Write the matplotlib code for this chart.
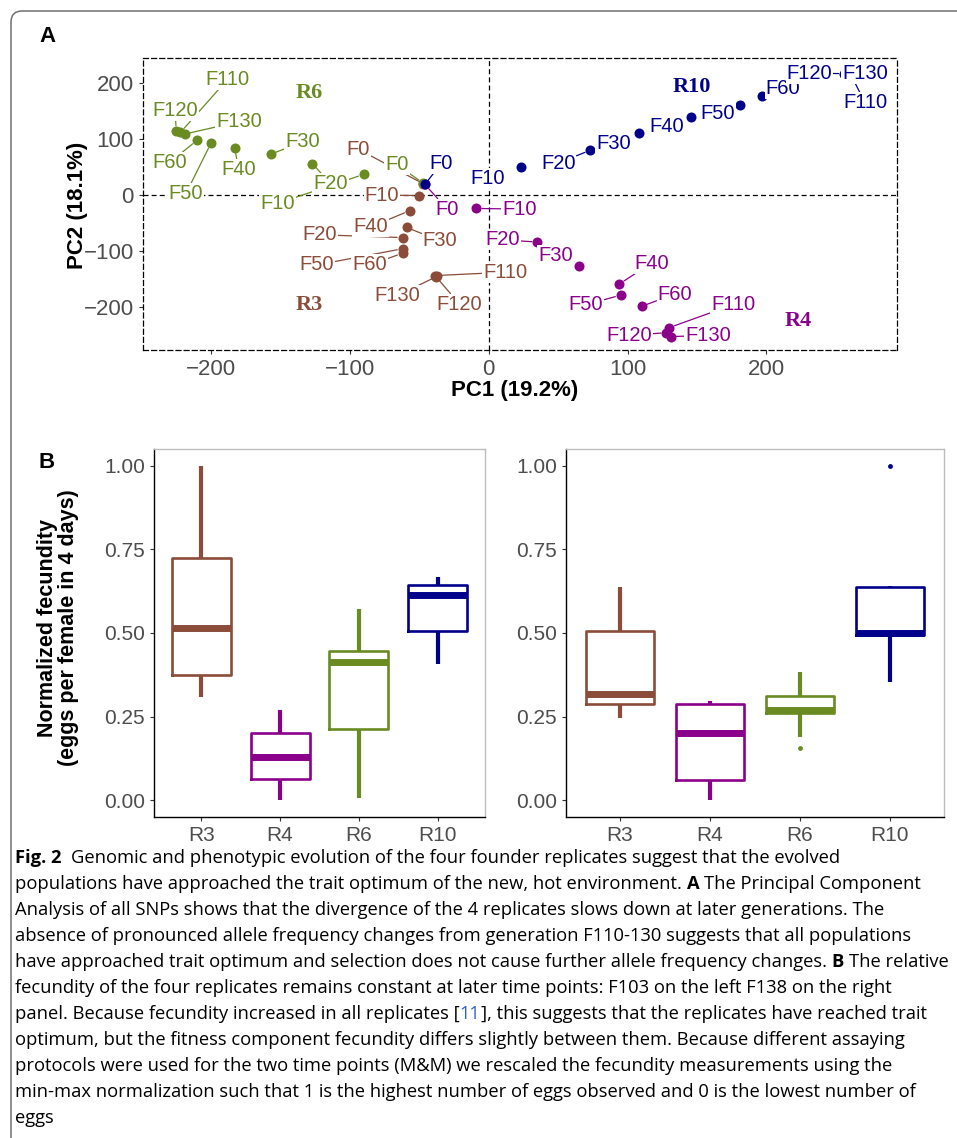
import matplotlib
matplotlib.use("Agg")
import matplotlib.pyplot as plt
from matplotlib.patches import FancyBboxPatch
from matplotlib.transforms import IdentityTransform
import matplotlib.ticker as mticker

# ---------------- data ----------------
generations = ["F0", "F10", "F20", "F30", "F40", "F50", "F60", "F110", "F120", "F130"]
replicates = ["R3", "R4", "R6", "R10"]

pc1_R3 = [-47, -50, -62, -59, -57, -62, -62, -39, -38, -37]
pc2_R3 = [20, -1, -76, -58, -28, -96, -104, -144, -146, -145]
pc1_R4 = [-46, -9, 35, 65, 94, 95, 110, 130, 128, 131]
pc2_R4 = [19, -24, -84, -126, -159, -179, -199, -237, -246, -253]
pc1_R6 = [-47, -90, -127, -157, -183, -200, -210, -222, -225, -219]
pc2_R6 = [21, 37, 56, 73, 84, 93, 98, 112, 114, 109]
pc1_R10 = [-46, 23, 73, 108, 146, 181, 197, 261, 256, 259]
pc2_R10 = [19, 51, 80, 111, 140, 161, 177, 214, 217, 217]

# boxplot summaries (F103 left, F138 right)
fec_left_whislo = [0.309, 0.000, 0.007, 0.406]
fec_left_q1 = [0.373, 0.063, 0.212, 0.507]
fec_left_med = [0.514, 0.128, 0.413, 0.614]
fec_left_q3 = [0.725, 0.200, 0.447, 0.642]
fec_left_whishi = [1.000, 0.269, 0.571, 0.668]
fec_left_fliers = [[], [], [], []]

fec_right_whislo = [0.245, 0.000, 0.188, 0.354]
fec_right_q1 = [0.287, 0.060, 0.261, 0.495]
fec_right_med = [0.319, 0.200, 0.271, 0.500]
fec_right_q3 = [0.507, 0.287, 0.312, 0.637]
fec_right_whishi = [0.637, 0.297, 0.382, 0.639]
fec_right_fliers = [[], [], [0.155], [1.0]]

caption_lines = [
    [("Fig. 2", "bold", "k"), ("  Genomic and phenotypic evolution of the four founder replicates suggest that the evolved", "normal", "k")],
    [("populations have approached the trait optimum of the new, hot environment. ", "normal", "k"), ("A", "bold", "k"), (" The Principal Component", "normal", "k")],
    [("Analysis of all SNPs shows that the divergence of the 4 replicates slows down at later generations. The", "normal", "k")],
    [("absence of pronounced allele frequency changes from generation F110-130 suggests that all populations", "normal", "k")],
    [("have approached trait optimum and selection does not cause further allele frequency changes. ", "normal", "k"), ("B", "bold", "k"), (" The relative", "normal", "k")],
    [("fecundity of the four replicates remains constant at later time points: F103 on the left F138 on the right", "normal", "k")],
    [("panel. Because fecundity increased in all replicates [", "normal", "k"), ("11", "normal", "#2f5fd0"), ("], this suggests that the replicates have reached trait", "normal", "k")],
    [("optimum, but the fitness component fecundity differs slightly between them. Because different assaying", "normal", "k")],
    [("protocols were used for the two time points (M&M) we rescaled the fecundity measurements using the", "normal", "k")],
    [("min-max normalization such that 1 is the highest number of eggs observed and 0 is the lowest number of", "normal", "k")],
    [("eggs", "normal", "k")],
]

# ---------------- style / layout ----------------
W, H = 957, 1138
colors = {"R3": "#8B4C39", "R4": "#8B008B", "R6": "#698B22", "R10": "#00008B"}
SANS = ["Liberation Sans", "DejaVu Sans"]
SERIF = ["Liberation Serif", "DejaVu Serif"]
TICK_C = "#4D4D4D"

# label positions (data units) for the PCA annotations
label_pos = {
    "R3": [(-94, 82), (-77, 0), (-122, -71), (-35, -82), (-85, -57), (-124, -125), (-86, -125),
           (12, -138), (-21, -195), (-66, -180)],
    "R4": [(-30, -25), (22, -25), (10, -80), (48, -108), (117, -122), (70, -196), (134, -177),
           (176, -196), (101, -251), (158, -251)],
    "R6": [(-66, 54), (-152, -15), (-114, 21), (-134, 95), (-180, 45), (-218, 3), (-230, 58),
           (-188, 207), (-226, 152), (-180, 131)],
    "R10": [(-34, 57), (-1, 30), (50, 57), (90, 93), (128, 122), (165, 146), (212, 191),
            (271, 165), (231, 218), (271, 218)],
}
no_segment = {("R10", "F10"), ("R10", "F30"), ("R10", "F40"), ("R10", "F50"), ("R10", "F60"),
              ("R4", "F30")}
group_label_pos = {"R6": (-129, 182), "R3": (-129, -196), "R10": (146, 193), "R4": (223, -226)}

fig = plt.figure(figsize=(W / 100, H / 100), dpi=100)


def px_axes(l, t, r, b):
    return fig.add_axes([l / W, 1 - b / H, (r - l) / W, (b - t) / H])


# frame
frame = FancyBboxPatch((11, -50), 1200, H - 11 + 50, boxstyle="round,pad=0,rounding_size=11",
                       transform=IdentityTransform(), fill=False, ec="#707070", lw=1.1,
                       clip_on=False)
fig.patches.append(frame)

# ---------------- Panel A ----------------
axA = px_axes(143, 58, 897, 350)
pcs = {"R3": (pc1_R3, pc2_R3), "R4": (pc1_R4, pc2_R4), "R6": (pc1_R6, pc2_R6), "R10": (pc1_R10, pc2_R10)}
axA.axhline(0, color="k", lw=0.9, ls=(0, (4, 2.5)), zorder=1)
axA.axvline(0, color="k", lw=0.9, ls=(0, (4, 2.5)), zorder=1)
for rep in ["R3", "R4", "R6", "R10"]:
    x, y = pcs[rep]
    axA.scatter(x, y, s=52, color=colors[rep], zorder=3, linewidths=0)
for rep in ["R3", "R4", "R6", "R10"]:
    x, y = pcs[rep]
    for g, xi, yi, (lx, ly) in zip(generations, x, y, label_pos[rep]):
        kw = {}
        if (rep, g) not in no_segment:
            kw["arrowprops"] = dict(arrowstyle="-", color=colors[rep], lw=0.9, shrinkA=0, shrinkB=4)
        axA.annotate(g, xy=(xi, yi), xytext=(lx, ly), ha="center", va="center",
                     fontsize=14.5, color=colors[rep], family=SANS, zorder=4,
                     bbox=dict(boxstyle="square,pad=0.05", fc="white", ec="none"), **kw)
for rep, (gx, gy) in group_label_pos.items():
    axA.text(gx, gy, rep, color=colors[rep], fontsize=16, fontweight="bold",
             family=SERIF, ha="center", va="center", zorder=5)
axA.set_xlim(-249, 294)
axA.set_ylim(-277, 245)
axA.set_xticks([-200, -100, 0, 100, 200])
axA.set_yticks([-200, -100, 0, 100, 200])
axA.xaxis.set_major_formatter(mticker.FuncFormatter(lambda v, p: f"{int(v)}".replace("-", "\u2212")))
axA.yaxis.set_major_formatter(mticker.FuncFormatter(lambda v, p: f"{int(v)}".replace("-", "\u2212")))
for sp in axA.spines.values():
    sp.set_linestyle((0, (4, 2.5)))
    sp.set_linewidth(0.9)
axA.tick_params(labelsize=16, labelcolor=TICK_C, color="#333333", length=3, width=0.8)
for lab in axA.get_xticklabels() + axA.get_yticklabels():
    lab.set_family(SANS)
fig.text(515 / W, 1 - 390 / H, "PC1 (19.2%)", fontsize=16, fontweight="bold", family=SANS,
         ha="center", va="center")
fig.text(77 / W, 1 - 205 / H, "PC2 (18.1%)", fontsize=16, fontweight="bold", family=SANS,
         ha="center", va="center", rotation=90)
fig.text(47 / W, 1 - 37 / H, "A", fontsize=16, fontweight="bold", family=SANS, ha="center", va="center")

# ---------------- Panel B ----------------
def box_panel(ax, whislo, q1, med, q3, whishi, fliers):
    stats = []
    for i, rep in enumerate(replicates):
        stats.append(dict(whislo=whislo[i], q1=q1[i], med=med[i], q3=q3[i], whishi=whishi[i],
                          fliers=fliers[i], label=rep))
    art = ax.bxp(stats, positions=[1, 2, 3, 4], widths=0.75, showcaps=False, showfliers=True,
                 boxprops=dict(lw=1.9), medianprops=dict(lw=5, solid_capstyle="butt"),
                 whiskerprops=dict(lw=3.0, solid_capstyle="butt"),
                 flierprops=dict(marker="o", markersize=3.5, markeredgewidth=0))
    for i, rep in enumerate(replicates):
        c = colors[rep]
        art["boxes"][i].set_color(c)
        art["medians"][i].set_color(c)
        art["whiskers"][2 * i].set_color(c)
        art["whiskers"][2 * i + 1].set_color(c)
        art["fliers"][i].set_markerfacecolor(c)
        art["fliers"][i].set_markeredgecolor(c)
    ax.set_xlim(0.4, 4.6)
    ax.set_ylim(-0.05, 1.05)
    ax.set_yticks([0, 0.25, 0.5, 0.75, 1.0])
    ax.yaxis.set_major_formatter(mticker.FormatStrFormatter("%.2f"))
    ax.set_xticks([1, 2, 3, 4])
    ax.set_xticklabels(replicates)
    ax.spines["left"].set_color("black")
    ax.spines["bottom"].set_color("black")
    ax.spines["top"].set_color("#BDBDBD")
    ax.spines["right"].set_color("#BDBDBD")
    for sp in ax.spines.values():
        sp.set_linewidth(1.0)
    ax.tick_params(labelsize=15, labelcolor=TICK_C, color="#333333", length=3, width=0.8)
    for lab in ax.get_xticklabels() + ax.get_yticklabels():
        lab.set_family(SANS)


axB1 = px_axes(154, 449, 485, 817)
box_panel(axB1, fec_left_whislo, fec_left_q1, fec_left_med, fec_left_q3, fec_left_whishi, fec_left_fliers)
axB2 = px_axes(566, 449, 944, 817)
box_panel(axB2, fec_right_whislo, fec_right_q1, fec_right_med, fec_right_q3, fec_right_whishi, fec_right_fliers)

fig.text(47 / W, 1 - 463 / H, "B", fontsize=16, fontweight="bold", family=SANS, ha="center", va="center")
fig.text(58 / W, 1 - 628 / H, "Normalized fecundity\n(eggs per female in 4 days)", fontsize=15.5,
         fontweight="bold", family=SANS, ha="center", va="center", rotation=90, linespacing=1.05)

# ---------------- Caption ----------------
CAP = ["Open Sans", "Noto Sans", "DejaVu Sans"]
fig.canvas.draw()
renderer = fig.canvas.get_renderer()


def text_width(s, size, weight):
    t = fig.text(0, 0, s, fontsize=size, fontweight=weight, family=CAP)
    w = t.get_window_extent(renderer).width
    t.remove()
    return w


ref_line = "".join(r[0] for r in caption_lines[4])
base = 12.0
cap_size = base * 930 / text_width(ref_line, base, "normal")
space_w = text_width("a a", cap_size, "normal") - text_width("aa", cap_size, "normal")

for i, runs in enumerate(caption_lines):
    x = 15.0
    yb = 863 + 26 * i
    for txt, weight, col in runs:
        lead = len(txt) - len(txt.lstrip(" "))
        trail = len(txt) - len(txt.rstrip(" "))
        core = txt.strip(" ")
        x += lead * space_w
        t = fig.text(x / W, 1 - yb / H, core, fontsize=cap_size, fontweight=weight, color=col,
                     family=CAP, ha="left", va="baseline")
        x += t.get_window_extent(renderer).width
        x += trail * space_w

fig.savefig("out.png", dpi=100)
